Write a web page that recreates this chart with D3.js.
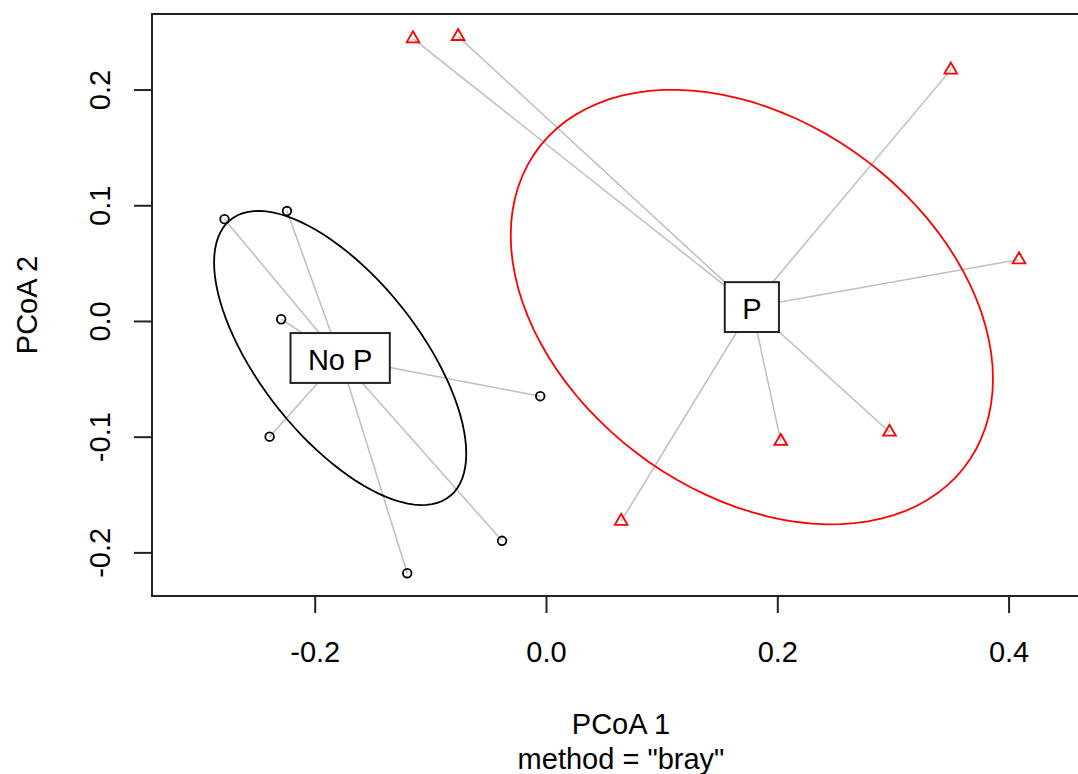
<!DOCTYPE html>
<html>
<head>
<meta charset="utf-8">
<script src="https://cdn.jsdelivr.net/npm/d3@7.9.0/dist/d3.min.js"></script>
<style>
  body { margin: 0; background: #fff; }
  svg { display: block; font-family: "Liberation Sans", Arial, sans-serif; }
</style>
</head>
<body>
<svg id="chart" width="1078" height="774"></svg>
<script>
// groups and their colours
const groups = ["No P", "P"];
const groupColors = ["black", "red"];

// PCoA scores
const noP_x = [-0.278, -0.224, -0.229, -0.005, -0.239, -0.038, -0.120];
const noP_y = [0.088, 0.095, 0.0015, -0.065, -0.100, -0.190, -0.218];
const p_x = [-0.115, -0.076, 0.350, 0.409, 0.203, 0.297, 0.065];
const p_y = [0.244, 0.246, 0.217, 0.053, -0.104, -0.096, -0.173];

// group centroids (betadisper)
const centroid_x = [-0.178, 0.178];
const centroid_y = [-0.032, 0.012];

const xTicks = [-0.2, 0.0, 0.2, 0.4];
const yTicks = [-0.2, -0.1, 0.0, 0.1, 0.2];

const fontSize = 29;
const svg = d3.select("#chart");

// plot region (right edge runs off the picture)
const x = d3.scaleLinear().domain([-0.3407, 0.4704]).range([152, 1090]);
const y = d3.scaleLinear().domain([-0.2377, 0.2653]).range([596, 14]);

const pts = [
  noP_x.map((v, i) => ({ x: v, y: noP_y[i], g: 0 })),
  p_x.map((v, i) => ({ x: v, y: p_y[i], g: 1 }))
];

// segments from each sample to its centroid
pts.forEach((arr, g) => {
  svg.append("g").selectAll("line").data(arr).join("line")
    .attr("x1", d => x(d.x)).attr("y1", d => y(d.y))
    .attr("x2", x(centroid_x[g])).attr("y2", y(centroid_y[g]))
    .attr("stroke", "#bebebe").attr("stroke-width", 1.5);
});

// standard deviation ellipse around the centroid
function sdEllipse(arr, cx, cy) {
  let sxx = 0, syy = 0, sxy = 0;
  arr.forEach(d => {
    sxx += (d.x - cx) ** 2;
    syy += (d.y - cy) ** 2;
    sxy += (d.x - cx) * (d.y - cy);
  });
  const n = arr.length - 1;
  sxx /= n; syy /= n; sxy /= n;
  // cholesky of covariance
  const l11 = Math.sqrt(sxx), l21 = sxy / l11, l22 = Math.sqrt(syy - l21 * l21);
  return d3.range(0, 101).map(i => {
    const t = (i / 100) * 2 * Math.PI;
    const u = Math.cos(t), v = Math.sin(t);
    return [cx + l11 * u, cy + l21 * u + l22 * v];
  });
}

const line = d3.line().x(d => x(d[0])).y(d => y(d[1]));
pts.forEach((arr, g) => {
  svg.append("path")
    .attr("d", line(sdEllipse(arr, centroid_x[g], centroid_y[g])))
    .attr("fill", "none")
    .attr("stroke", groupColors[g])
    .attr("stroke-width", 1.8);
});

// points: open circles for No P, open triangles for P
svg.append("g").selectAll("circle").data(pts[0]).join("circle")
  .attr("cx", d => x(d.x)).attr("cy", d => y(d.y)).attr("r", 4.3)
  .attr("fill", "none").attr("stroke", groupColors[0]).attr("stroke-width", 1.8);

const tri = d3.symbol(d3.symbolTriangle, 70);
svg.append("g").selectAll("path").data(pts[1]).join("path")
  .attr("d", tri)
  .attr("transform", d => `translate(${x(d.x)},${y(d.y)})`)
  .attr("fill", "none").attr("stroke", groupColors[1]).attr("stroke-width", 1.8);

// centroid labels in boxes
groups.forEach((lab, g) => {
  const cx = x(centroid_x[g]), cy = y(centroid_y[g]);
  const lg = svg.append("g");
  const r = lg.append("rect");
  const t = lg.append("text")
    .attr("x", cx).attr("y", cy + fontSize * 0.42)
    .attr("text-anchor", "middle")
    .attr("font-size", fontSize)
    .attr("fill", "black")
    .text(lab);
  const w = t.node().getComputedTextLength() + fontSize * 1.2;
  const h = fontSize * 1.72;
  r.attr("x", cx - w / 2).attr("y", cy - h / 2)
    .attr("width", w).attr("height", h)
    .attr("fill", "white").attr("stroke", "#222").attr("stroke-width", 2);
});

// frame
svg.append("rect")
  .attr("x", 152).attr("y", 14).attr("width", 1090 - 152).attr("height", 596 - 14)
  .attr("fill", "none").attr("stroke", "#222").attr("stroke-width", 2);

// axes
const fmt = d => d.toFixed(1);
const xAxis = svg.append("g").attr("transform", "translate(0,596)")
  .call(d3.axisBottom(x).tickValues(xTicks).tickFormat(fmt).tickSize(17).tickPadding(28));
const yAxis = svg.append("g").attr("transform", "translate(152,0)")
  .call(d3.axisLeft(y).tickValues(yTicks).tickFormat(fmt).tickSize(18));

[xAxis, yAxis].forEach(a => {
  a.select(".domain").remove();
  a.selectAll(".tick line").attr("stroke", "#222").attr("stroke-width", 2);
  a.selectAll("text").attr("font-size", fontSize).attr("font-family", null).attr("fill", "black");
});
yAxis.selectAll(".tick text")
  .attr("x", null).attr("dy", null)
  .attr("text-anchor", "middle")
  .attr("transform", "translate(-42,0) rotate(-90)");

// axis titles
svg.append("text").attr("x", 621).attr("y", 734)
  .attr("text-anchor", "middle").attr("font-size", fontSize).text("PCoA 1");
svg.append("text").attr("x", 621).attr("y", 769)
  .attr("text-anchor", "middle").attr("font-size", fontSize).text('method = "bray"');
svg.append("text")
  .attr("transform", "translate(37,305) rotate(-90)")
  .attr("text-anchor", "middle").attr("font-size", fontSize).text("PCoA 2");
</script>
</body>
</html>
